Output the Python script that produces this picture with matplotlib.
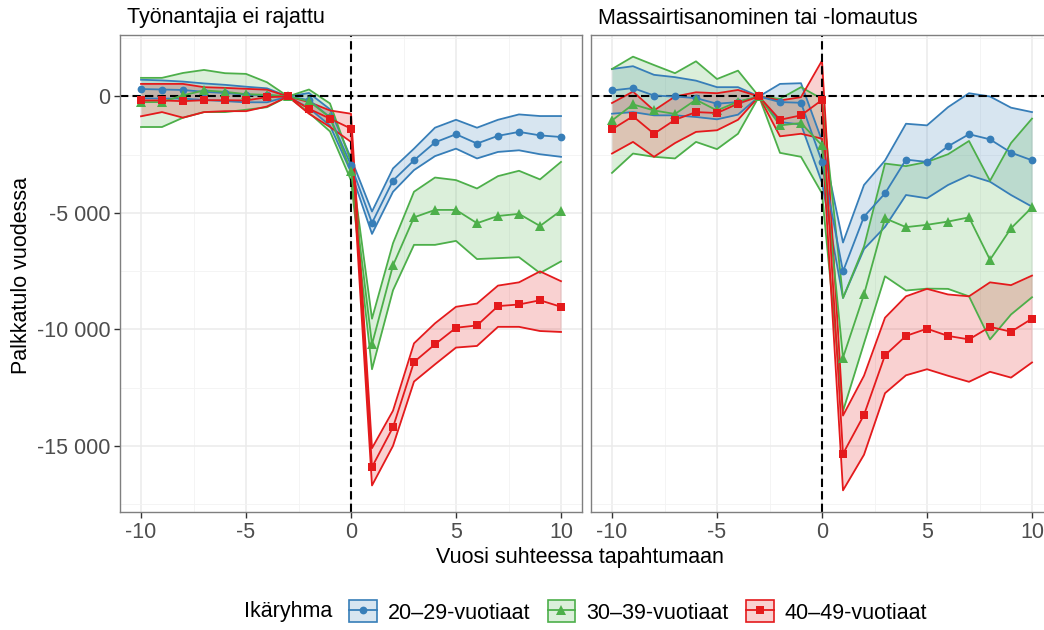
import matplotlib
matplotlib.use("Agg")
import matplotlib.pyplot as plt
from matplotlib.lines import Line2D
from matplotlib.patches import Patch
from matplotlib.colors import to_rgba
from matplotlib.ticker import FixedLocator, FuncFormatter

plt.rcParams['font.family'] = ['Liberation Sans', 'DejaVu Sans']
plt.rcParams['axes.unicode_minus'] = False

# ---- data -----------------------------------------------------------------
years = list(range(-10, 11))
panel_titles = ["Työnantajia ei rajattu", "Massairtisanominen tai -lomautus"]
group_labels = ["20–29-vuotiaat", "30–39-vuotiaat", "40–49-vuotiaat"]
legend_title = "Ikäryhma"
x_title = "Vuosi suhteessa tapahtumaan"
y_title = "Palkkatulo vuodessa"
x_ticks = [-10, -5, 0, 5, 10]
y_ticks = [-15000, -10000, -5000, 0]

# Panel 1: employers not restricted (estimate, lower CI, upper CI)
young_est_all = [320, 300, 280, 200, 150, 80, 50, 0, -150, -900, -2950,
                 -5430, -3610, -2740, -1970, -1620, -2020, -1690, -1520, -1670, -1740]
young_lo_all = [-80, -90, -90, -150, -200, -250, -250, 0, -500, -1250, -3250,
                -5900, -4090, -3160, -2560, -2240, -2660, -2380, -2310, -2480, -2590]
young_hi_all = [720, 690, 640, 560, 500, 420, 350, 0, 150, -550, -2650,
                -4940, -3090, -2240, -1340, -1000, -1340, -1000, -770, -840, -840]

mid_est_all = [-240, -240, 50, 260, 200, 100, 70, 0, -200, -900, -3200,
               -10640, -7250, -5190, -4870, -4870, -5440, -5130, -5040, -5560, -4900]
mid_lo_all = [-1310, -1310, -910, -670, -670, -570, -460, 0, -700, -1500, -3600,
              -11710, -8320, -6370, -6370, -6200, -6980, -6940, -6900, -7580, -7080]
mid_hi_all = [800, 800, 1010, 1140, 1000, 970, 610, 0, 300, -300, -2800,
              -9540, -6300, -4090, -3480, -3590, -3950, -3420, -3190, -3560, -2810]

old_est_all = [-170, -170, -200, -160, -160, -170, -30, 0, -530, -950, -1380,
               -15910, -14200, -11400, -10640, -9930, -9830, -9000, -8930, -8750, -9030]
old_lo_all = [-850, -670, -910, -670, -630, -630, -430, 0, -740, -1310, -1950,
              -16700, -15000, -12240, -11500, -10780, -10710, -9890, -9890, -10070, -10110]
old_hi_all = [540, 540, 540, 400, 370, 330, 290, 0, -240, -600, -740,
              -15100, -13490, -10600, -9740, -9030, -8890, -8120, -7980, -7510, -7930]

# Panel 2: mass dismissal or temporary layoff
young_est_mass = [260, 360, 40, 0, -70, -310, -240, 0, -240, -270, -2800,
                  -7510, -5160, -4160, -2710, -2810, -2140, -1620, -1840, -2410, -2740]
young_lo_mass = [-740, -670, -810, -810, -880, -980, -780, 0, -1100, -1200, -3700,
                 -8650, -6550, -5600, -4230, -4370, -3800, -3380, -3660, -4230, -4730]
young_hi_mass = [1180, 1300, 930, 830, 680, 400, 400, 0, 540, 570, -1900,
                 -6270, -3800, -2750, -1170, -1240, -460, 140, 0, -480, -670]

mid_est_mass = [-1030, -340, -600, -750, -140, -600, -220, 0, -1240, -1140, -2100,
                -11210, -8500, -5230, -5610, -5510, -5370, -5190, -7010, -5660, -4760]
mid_lo_mass = [-3280, -2450, -2590, -2660, -1950, -2260, -1600, 0, -2420, -2590, -4160,
               -13510, -10600, -7720, -8330, -8250, -8260, -8580, -10430, -9360, -8620]
mid_hi_mass = [1180, 1710, 1350, 1000, 1510, 750, 1110, 0, -100, 400, -100,
               -8650, -6440, -2880, -2990, -2810, -2480, -1910, -3620, -2000, -950]

old_est_mass = [-1410, -850, -1600, -1000, -670, -710, -310, 0, -1000, -810, -150,
                -15340, -13670, -11110, -10280, -9970, -10280, -10430, -9890, -10100, -9540]
old_lo_mass = [-2450, -1950, -2590, -2000, -1520, -1450, -1000, 0, -1710, -1600, -1810,
               -16910, -15380, -12740, -11970, -11710, -11990, -12250, -11820, -12070, -11420]
old_hi_mass = [-280, 210, -600, 0, 180, 140, 280, 0, -170, -30, 1540,
               -13700, -11990, -9500, -8580, -8260, -8500, -8580, -7980, -8100, -7690]

# ---- styling ----------------------------------------------------------------
colors = ["#377EB8", "#4DAF4A", "#E41A1C"]
markers = ["o", "^", "s"]
marker_sizes = [5.6, 6.8, 5.4]
FS = 15.5
W, H = 1044, 630

fig = plt.figure(figsize=(W / 100, H / 100), dpi=100)
fig.patch.set_facecolor("white")


def px_axes(x0, y0, x1, y1):
    return fig.add_axes([x0 / W, 1 - y1 / H, (x1 - x0) / W, (y1 - y0) / H])


axL = px_axes(120, 35, 582, 512)
axR = px_axes(591, 35, 1053, 512)

panels = [
    (axL, [(young_est_all, young_lo_all, young_hi_all),
           (mid_est_all, mid_lo_all, mid_hi_all),
           (old_est_all, old_lo_all, old_hi_all)]),
    (axR, [(young_est_mass, young_lo_mass, young_hi_mass),
           (mid_est_mass, mid_lo_mass, mid_hi_mass),
           (old_est_mass, old_lo_mass, old_hi_mass)]),
]

for i, (ax, groups) in enumerate(panels):
    ax.set_xlim(-11, 11)
    ax.set_ylim(-17840, 2640)
    ax.set_facecolor("white")
    for sp in ax.spines.values():
        sp.set_color("#7f7f7f")
        sp.set_linewidth(1.0)

    ax.xaxis.set_major_locator(FixedLocator(x_ticks))
    ax.xaxis.set_minor_locator(FixedLocator([-7.5, -2.5, 2.5, 7.5]))
    ax.yaxis.set_major_locator(FixedLocator(y_ticks))
    ax.yaxis.set_minor_locator(FixedLocator([-17500, -12500, -7500, -2500, 2500]))
    ax.grid(which="major", color="#EBEBEB", linewidth=1.1, zorder=0)
    ax.grid(which="minor", color="#F3F3F3", linewidth=0.6, zorder=0)
    ax.set_axisbelow(True)
    ax.tick_params(which="minor", length=0)
    ax.tick_params(which="major", length=4, width=1, color="#333333",
                   labelsize=FS, labelcolor="#4D4D4D", pad=3)
    ax.yaxis.set_major_formatter(
        FuncFormatter(lambda v, p: f"{int(round(v)):,}".replace(",", " ")))
    if i == 1:
        ax.tick_params(axis="y", which="both", left=False, labelleft=False)

    # confidence ribbons with coloured outlines
    for (est, lo, hi), c in zip(groups, colors):
        ax.fill_between(years, lo, hi, color=c, alpha=0.2, linewidth=0, zorder=2)
        ax.plot(years, lo, color=c, lw=1.3, zorder=2.2)
        ax.plot(years, hi, color=c, lw=1.3, zorder=2.2)

    ax.axhline(0, color="black", lw=1.5, dashes=(4, 2), zorder=2.5)
    ax.axvline(0, color="black", lw=1.5, dashes=(4, 2), zorder=2.5)

    for (est, lo, hi), c in zip(groups, colors):
        ax.plot(years, est, color=c, lw=1.3, zorder=3)
    for (est, lo, hi), c, m, ms in zip(groups, colors, markers, marker_sizes):
        ax.plot(years, est, linestyle="none", marker=m, ms=ms, color=c,
                markeredgewidth=0, zorder=4)

# facet titles
fig.text(127 / W, 1 - 18 / H, panel_titles[0], fontsize=FS, va="center", ha="left")
fig.text(598 / W, 1 - 18 / H, panel_titles[1], fontsize=FS, va="center", ha="left")

# axis titles
fig.text(580 / W, 1 - 558 / H, x_title, fontsize=FS, ha="center", va="center")
fig.text(22 / W, 1 - 276 / H, y_title, fontsize=FS, ha="center", va="center",
         rotation=90)

# legend
handles = []
for c, m, ms in zip(colors, markers, marker_sizes):
    box = Patch(facecolor=to_rgba(c, 0.2), edgecolor=c, linewidth=1.2)
    ln = Line2D([], [], color=c, lw=1.3, marker=m, ms=ms, markeredgewidth=0)
    handles.append((box, ln))
fig.text(244 / W, 1 - 612 / H, legend_title, fontsize=FS, ha="left", va="center")
fig.legend(handles, group_labels, loc="center",
           bbox_to_anchor=(638 / W, 1 - 612 / H), ncol=3, frameon=False,
           fontsize=FS, handlelength=1.3, handleheight=1.2, handletextpad=0.5,
           columnspacing=0.8, borderpad=0.0)

fig.savefig("out.png", dpi=100)
